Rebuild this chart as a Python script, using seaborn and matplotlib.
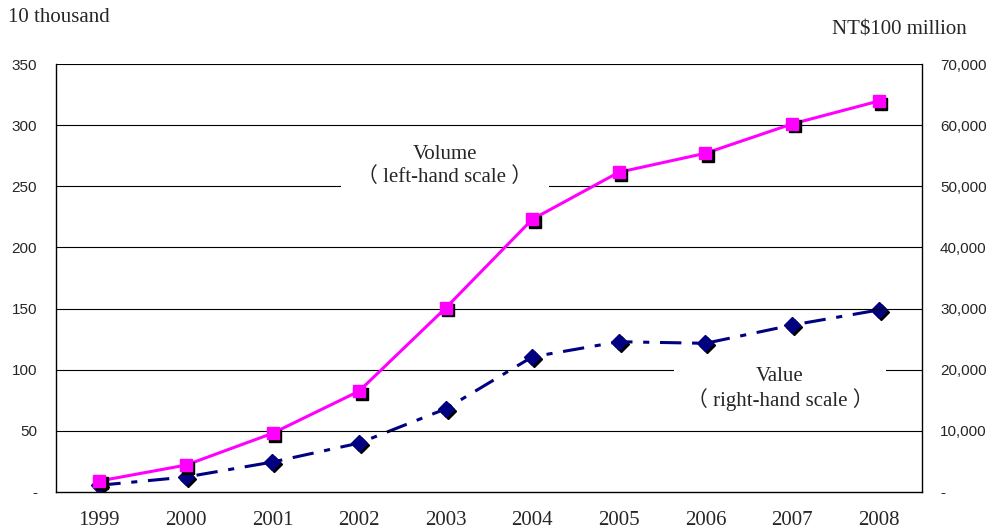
import matplotlib
matplotlib.use("Agg")
import matplotlib.pyplot as plt
import matplotlib.transforms as mtrans
import seaborn as sns
import pandas as pd
import numpy as np

years = ["1999", "2000", "2001", "2002", "2003", "2004", "2005", "2006", "2007", "2008"]
volume = [9, 22, 48, 82.5, 150.5, 223, 261.5, 277, 301, 319.7]          # 10 thousand (left)
value = [1100, 2450, 4900, 8000, 13600, 22100, 24580, 24320, 27300, 29770]  # NT$100 million (right)
left_ticks = [0, 50, 100, 150, 200, 250, 300, 350]
left_labels = ["-", "50", "100", "150", "200", "250", "300", "350"]
right_ticks = [0, 10000, 20000, 30000, 40000, 50000, 60000, 70000]
right_labels = ["-", "10,000", "20,000", "30,000", "40,000", "50,000", "60,000", "70,000"]

df = pd.DataFrame({"pos": np.arange(len(years)), "year": years, "volume": volume, "value": value})

sns.set_theme(style="white")
plt.rcParams["font.family"] = ["Liberation Serif", "Noto Sans CJK TC", "DejaVu Sans"]

fig = plt.figure(figsize=(9.92, 5.30), dpi=100)
ax = fig.add_axes([56 / 992, 1 - 492 / 530, 866 / 992, 428 / 530])
ax2 = ax.twinx()

for a in (ax, ax2):
    for s in a.spines.values():
        s.set_visible(False)
ax.spines["left"].set_visible(True)
ax.spines["bottom"].set_visible(True)
ax2.spines["right"].set_visible(True)
for s in [ax.spines["left"], ax.spines["bottom"], ax2.spines["right"]]:
    s.set_color("black")
    s.set_linewidth(1.0)

ax.set_xlim(-0.5, len(years) - 0.5)
ax.set_ylim(0, 350)
ax2.set_ylim(0, 70000)

# gridlines
for t in left_ticks[1:]:
    ax.axhline(t, color="black", lw=0.8, zorder=0)

# Volume line (left)
sns.lineplot(data=df, x="pos", y="volume", ax=ax, color="#FF00FF", lw=2.2, zorder=3, legend=False)
off1 = mtrans.offset_copy(ax.transData, fig=fig, x=2.5, y=-2.5, units="dots")
ax.plot(df["pos"], df["volume"], ls="none", marker="s", ms=9, mfc="black", mec="black",
        zorder=4, transform=off1)
ax.plot(df["pos"], df["volume"], ls="none", marker="s", ms=9, mfc="#FF00FF", mec="#FF00FF",
        zorder=5)

# Value line (right)
sns.lineplot(data=df, x="pos", y="value", ax=ax2, color="#000080", lw=2.2, zorder=3, legend=False)
ax2.lines[-1].set_linestyle((0, (7, 3.5, 2, 3.5)))
off2 = mtrans.offset_copy(ax2.transData, fig=fig, x=2, y=-2, units="dots")
ax2.plot(df["pos"], df["value"], ls="none", marker="D", ms=8.5, mfc="black", mec="black",
         zorder=4, transform=off2)
ax2.plot(df["pos"], df["value"], ls="none", marker="D", ms=8.5, mfc="#000080", mec="#000080",
         zorder=5)

# x axis
ax.set_xticks(np.arange(len(years)))
ax.set_xticklabels(years, fontsize=15, family="Liberation Serif")
ax.set_xticks(np.arange(len(years) - 1) + 0.5, minor=True)
ax.tick_params(axis="x", which="major", length=0, pad=13.5)
ax.tick_params(axis="x", which="minor", length=5, direction="in", color="black", width=1)
ax.set_xlabel("")

ax.set_yticks(left_ticks)
ax.set_yticklabels(left_labels, fontsize=11, family="Liberation Sans")
ax.tick_params(axis="y", length=0, pad=13.5)
ax.set_ylabel("")

ax2.set_yticks(right_ticks)
ax2.set_yticklabels(right_labels, fontsize=11, family="Liberation Sans")
ax2.tick_params(axis="y", length=0, pad=13)
ax2.set_ylabel("")
for lbl in ax2.get_yticklabels():
    lbl.set_horizontalalignment("left")

ax.set_zorder(ax2.get_zorder() + 1)
ax.patch.set_visible(False)

# Annotations with white boxes
fig.text(445 / 992, 1 - 166 / 530, "Volume\n（ left-hand scale ）", ha="center", va="center",
         fontsize=15, linespacing=1.15,
         bbox=dict(facecolor="white", edgecolor="none", boxstyle="square,pad=0.8"), zorder=10)
fig.text(780 / 992, 1 - 389 / 530, "Value\n（ right-hand scale ）", ha="center", va="center",
         fontsize=15, linespacing=1.15,
         bbox=dict(facecolor="white", edgecolor="none", boxstyle="square,pad=0.6"), zorder=10)

fig.text(8 / 992, 1 - 18 / 530, "10 thousand", ha="left", va="center", fontsize=15)
fig.text(967 / 992, 1 - 30 / 530, "NT$100 million", ha="right", va="center", fontsize=15)

fig.savefig("out.png", dpi=100)
